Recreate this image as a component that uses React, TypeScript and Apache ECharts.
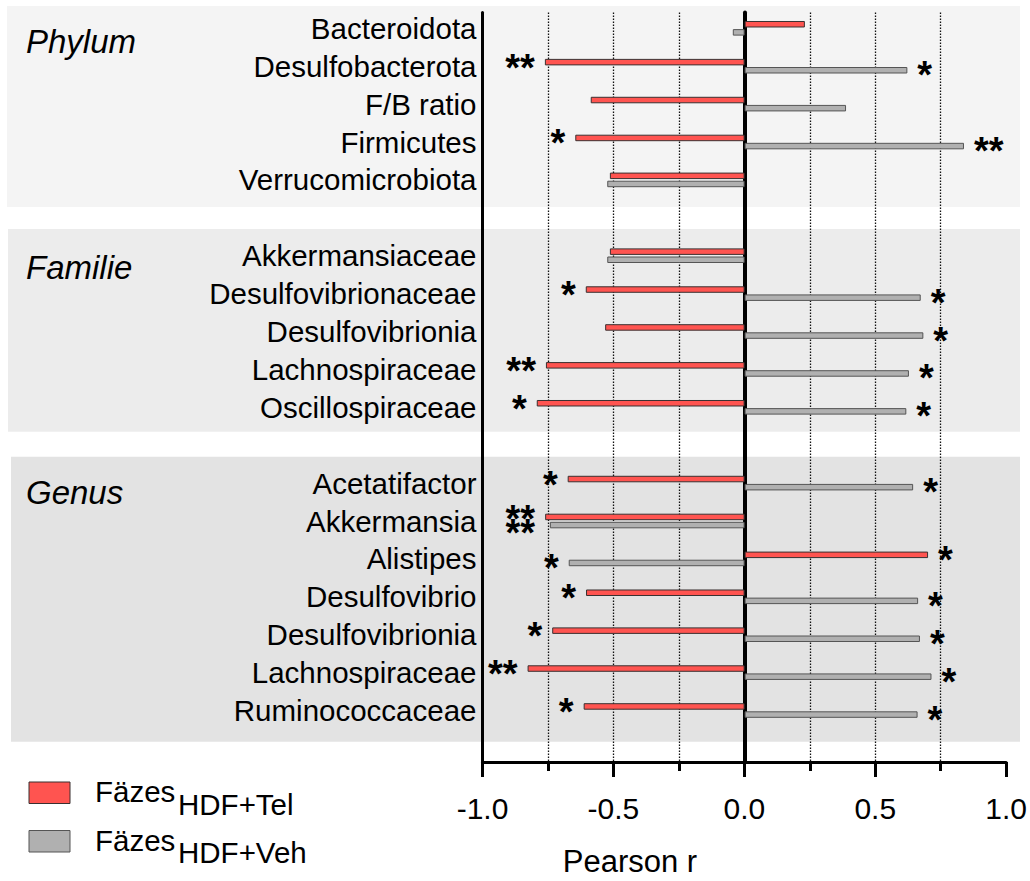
import React, { useEffect, useRef } from "react";
import * as echarts from "echarts";

const categories = [
  "Bacteroidota", "Desulfobacterota", "F/B ratio", "Firmicutes", "Verrucomicrobiota",
  "",
  "Akkermansiaceae", "Desulfovibrionaceae", "Desulfovibrionia", "Lachnospiraceae", "Oscillospiraceae",
  "",
  "Acetatifactor", "Akkermansia", "Alistipes", "Desulfovibrio", "Desulfovibrionia", "Lachnospiraceae", "Ruminococcaceae",
];

const groupNames = ["Phylum", "Familie", "Genus"];

// Pearson r, HDF+Tel (red)
const telValues = [
  0.23, -0.762, -0.587, -0.646, -0.514,
  null,
  -0.514, -0.606, -0.532, -0.758, -0.793,
  null,
  -0.675, -0.761, 0.7, -0.605, -0.734, -0.828, -0.614,
];

// Pearson r, HDF+Veh (gray)
const vehValues = [
  -0.045, 0.621, 0.387, 0.837, -0.524,
  null,
  -0.524, 0.672, 0.682, 0.627, 0.617,
  null,
  0.643, -0.743, -0.671, 0.662, 0.669, 0.713, 0.66,
];

const telSig = ["", "**", "", "*", "", "", "", "*", "", "**", "*", "", "*", "**", "*", "*", "*", "**", "*"];
const vehSig = ["", "*", "", "**", "", "", "", "*", "*", "*", "*", "", "*", "**", "*", "*", "*", "*", "*"];

const legendMain = ["Fäzes", "Fäzes"];
const legendSub = ["HDF+Tel", "HDF+Veh"];
const seriesColors = ["#ff5450", "#b0b0b0"];
const seriesBorders = ["#3a3030", "#555555"];

const axisName = "Pearson r";

const FONT = "'Liberation Sans', Arial, Helvetica, sans-serif";

export default function App() {
  const ref = useRef<HTMLDivElement>(null);

  useEffect(() => {
    if (!ref.current) return;
    const chart = echarts.init(ref.current, undefined, { renderer: "svg" });

    const gridLeft = 482.5;
    const gridRight = 1030 - 1006.7;

    const mkData = (vals: (number | null)[], sigs: string[], other: (number | null)[], otherSigs: string[], isTop: boolean) =>
      vals.map((v, i) => {
        if (v == null) return "-";
        const o = other[i];
        const sameSide = o != null && (o < 0) === (v < 0) && !!sigs[i] && !!otherSigs[i];
        let dy = isTop ? 5.5 : 5;
        let dist = 10;
        if (sameSide) {
          dy = isTop ? 2 : 8;
          // align stacked asterisks on the longer bar's end
          const diff = Math.abs(Math.abs(v) - Math.abs(o as number));
          if (Math.abs(v) < Math.abs(o as number)) dist = 10 + diff * 262;
        }
        return {
          value: v,
          label: { position: v < 0 ? "left" : "right", offset: [0, dy], distance: dist },
        };
      });

    const dotted = { type: [1.5, 1.5], color: "#111", width: 1.3 };

    const sigLabel = (sigs: string[]) => ({
      show: true,
      formatter: (p: any) => sigs[p.dataIndex],
      fontSize: 38,
      fontWeight: "bold",
      color: "#000",
      lineHeight: 12,
      fontFamily: FONT,
    });

    const option: any = {
      animation: false,
      textStyle: { fontFamily: FONT },
      grid: [
        { left: gridLeft, right: gridRight, top: 9.35, height: 720.1 },
        { left: gridLeft, right: gridRight, top: 12.5, height: 749.5 },
      ],
      xAxis: [
        { gridIndex: 0, type: "value", min: -1, max: 1, show: false },
        {
          gridIndex: 1,
          type: "value",
          min: -1,
          max: 1,
          interval: 0.5,
          axisLine: { show: true, onZero: false, lineStyle: { color: "#000", width: 3 } },
          axisTick: { show: true, length: 15, lineStyle: { color: "#000", width: 3 } },
          minorTick: { show: true, splitNumber: 2, length: 9, lineStyle: { color: "#000", width: 3 } },
          axisLabel: {
            fontSize: 30,
            color: "#000",
            margin: 31,
            fontFamily: FONT,
            formatter: (v: number) => v.toFixed(1),
          },
          splitLine: { show: true, showMinLine: false, showMaxLine: false, lineStyle: dotted },
          minorSplitLine: { show: true, lineStyle: dotted },
        },
      ],
      yAxis: [
        {
          gridIndex: 0,
          type: "category",
          data: categories,
          inverse: true,
          axisLine: { show: false },
          axisTick: { show: false },
          axisLabel: {
            interval: 0,
            fontSize: 29.5,
            color: "#000",
            margin: 6,
            fontFamily: FONT,
            padding: [0, 0, 4, 0],
          },
        },
        {
          gridIndex: 1,
          type: "value",
          min: 0,
          max: 1,
          position: "left",
          axisLine: { show: true, onZero: false, lineStyle: { color: "#000", width: 3 } },
          axisTick: { show: false },
          axisLabel: { show: false },
          splitLine: { show: false },
        },
        {
          gridIndex: 1,
          type: "value",
          min: 0,
          max: 1,
          axisLine: { show: true, onZero: true, lineStyle: { color: "#000", width: 4 } },
          axisTick: { show: false },
          axisLabel: { show: false },
          splitLine: { show: false },
        },
      ],
      series: [
        {
          type: "bar",
          name: "HDF+Tel",
          xAxisIndex: 0,
          yAxisIndex: 0,
          data: mkData(telValues, telSig, vehValues, vehSig, true),
          barWidth: 6.5,
          barGap: "25%",
          itemStyle: { color: seriesColors[0], borderColor: seriesBorders[0], borderWidth: 1 },
          label: sigLabel(telSig),
          z: 3,
        },
        {
          type: "bar",
          name: "HDF+Veh",
          xAxisIndex: 0,
          yAxisIndex: 0,
          data: mkData(vehValues, vehSig, telValues, telSig, false),
          barWidth: 6.5,
          barGap: "25%",
          itemStyle: { color: seriesColors[1], borderColor: seriesBorders[1], borderWidth: 1 },
          label: sigLabel(vehSig),
          z: 3,
        },
      ],
      graphic: [
        { type: "rect", z: -10, shape: { x: 7, y: 6, width: 1013, height: 201 }, style: { fill: "#f4f4f4" }, silent: true },
        { type: "rect", z: -10, shape: { x: 8, y: 229, width: 1012, height: 202.7 }, style: { fill: "#ececec" }, silent: true },
        { type: "rect", z: -10, shape: { x: 11, y: 456.7, width: 1009, height: 285 }, style: { fill: "#e3e3e3" }, silent: true },
        ...groupNames.map((g, i) => ({
          type: "text",
          x: 26,
          y: [41, 267, 492][i],
          style: {
            text: g,
            fontSize: 33,
            fontStyle: "italic",
            fontFamily: FONT,
            fill: "#000",
            align: "left",
            verticalAlign: "middle",
          },
        })),
        ...legendMain.flatMap((m, i) => [
          {
            type: "rect",
            shape: { x: 29, y: [782, 830.5][i], width: 41, height: 21.5 },
            style: { fill: seriesColors[i], stroke: seriesBorders[i], lineWidth: 1 },
          },
          {
            type: "text",
            x: 95,
            y: [791.4, 840.4][i],
            style: { text: m, fontSize: 29.5, fontFamily: FONT, fill: "#000", align: "left", verticalAlign: "middle" },
          },
          {
            type: "text",
            x: 178,
            y: [804.7, 852.7][i],
            style: { text: legendSub[i], fontSize: 29.5, fontFamily: FONT, fill: "#000", align: "left", verticalAlign: "middle" },
          },
        ]),
        {
          type: "text",
          x: 630,
          y: 861,
          style: { text: axisName, fontSize: 31, fontFamily: FONT, fill: "#000", align: "center", verticalAlign: "middle" },
        },
      ],
    };

    chart.setOption(option);
    return () => chart.dispose();
  }, []);

  return (
    <div
      ref={ref}
      style={{ position: "absolute", left: 0, top: 0, width: 1030, height: 881 }}
    />
  );
}
